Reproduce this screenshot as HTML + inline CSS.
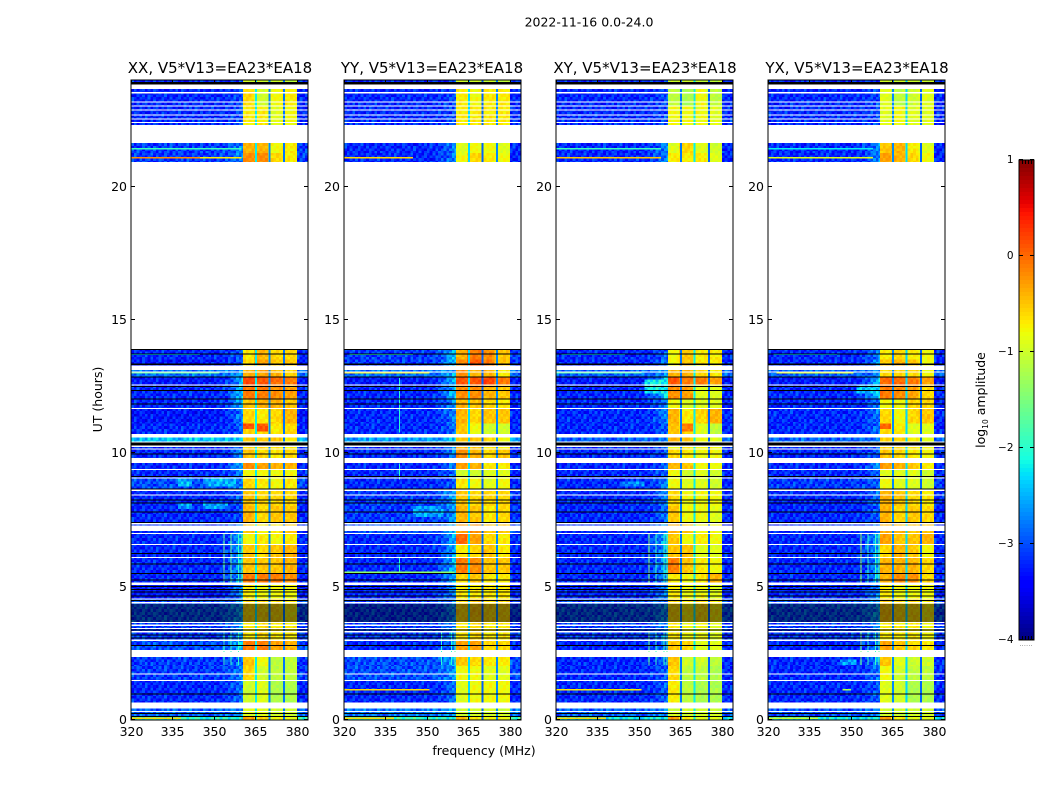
<!DOCTYPE html>
<html lang="en">
<head>
<meta charset="utf-8">
<title>2022-11-16 0.0-24.0</title>
<style>
html,body{margin:0;padding:0;background:#fff}
svg{display:block}
text{font-family:"DejaVu Sans","Liberation Sans",sans-serif;fill:#000}
</style>
</head>
<body>
<svg id="figure" xmlns="http://www.w3.org/2000/svg" width="1050" height="800" viewBox="0 0 1050 800">
  <rect x="0" y="0" width="1050" height="800" fill="#fff"/>
  <text x="589" y="26.5" font-size="12.5" text-anchor="middle">2022-11-16 0.0-24.0</text>
  <g id="panel-xx"></g>
  <g id="panel-yy"></g>
  <g id="panel-xy"></g>
  <g id="panel-yx"></g>
  <text x="220" y="73" font-size="15" text-anchor="middle">XX, V5*V13=EA23*EA18</text>
  <text x="432" y="73" font-size="15" text-anchor="middle">YY, V5*V13=EA23*EA18</text>
  <text x="645" y="73" font-size="15" text-anchor="middle">XY, V5*V13=EA23*EA18</text>
  <text x="857" y="73" font-size="15" text-anchor="middle">YX, V5*V13=EA23*EA18</text>
  <text x="484" y="755" font-size="12.5" text-anchor="middle">frequency (MHz)</text>
  <text transform="translate(102 399.5) rotate(-90)" font-size="12.5" text-anchor="middle">UT (hours)</text>
  <g id="colorbar"></g>
  <text transform="translate(985 400) rotate(-90)" font-size="12.5" text-anchor="middle">log<tspan font-size="7.5" dy="3">10</tspan><tspan dy="-3"> amplitude</tspan></text>
  <text x="1026" y="646" font-size="7" style="fill:#888" text-anchor="middle">......</text>
</svg>
<script>
// ---- Axis ticks ----
const xTickValues = [320, 335, 350, 365, 380];
const yTickValues = [0, 5, 10, 15, 20];
const colorbarTickValues = [-4, -3, -2, -1, 0, 1];

// ---- Observation bands (UT hours, top of plot to bottom) ----
const bandStartUT = [23.9,23.0,22.29,21.25,20.9,13.5,13.27,12.85,12.53,12.0,11.66,11.1,10.7,10.43,10.13,9.8,9.4,9.03,8.62,8.0,7.4,7.0,6.58,6.1,5.5,5.13,4.54,3.66,3.0,2.6,2.0,1.49,0.63,0.13,0];
const bandEndUT   = [24,23.64,23.0,21.61,21.25,13.9,13.5,13.1,12.85,12.53,12.0,11.66,11.1,10.57,10.22,10.13,9.62,9.4,9.03,8.62,8.0,7.32,7.0,6.58,6.1,5.5,5.13,4.54,3.66,3.0,2.35,2.0,1.49,0.42,0.09];

// ---- log10 amplitude per band: [below band, band edge, seg 360-365, seg 365-370, seg 370-375, seg 375-380] ----
const xxLevels = [[-3.2,-3,-1,-1,-1,-1.1],[-3.2,-3,-.6,-1,-.8,-.7],[-3.2,-3,-.7,-.7,-.9,-.8],[-3.1,-2.7,-.4,-.4,-.8,-.7],[-3.1,-2.7,-.2,-.2,-.6,-.7],[-3.2,-2.9,-.7,-.4,-.6,-.6],[-3.3,-2.9,-.6,-.3,-.5,-.5],[-2.8,-2.6,-.4,-.3,-.4,-.6],[-3.3,-2.5,.2,.1,0,-.1],[-3.2,-2.4,-.1,-.1,-.2,-.3],[-3.2,-2.5,-.5,-.4,-.4,-.5],[-3.3,-2.7,-.6,-.7,-.6,-.4],[-3.2,-2.9,-.6,-.6,-.7,-.6],[-2.4,-2.4,-.5,-.5,-.5,-.7],[-3.2,-2.9,-.6,-.6,-.7,-.7],[-3.2,-2.7,-.5,-.6,-.7,-.6],[-3.2,-2.5,-.2,-.3,-.4,-.4],[-3.2,-2.7,-.8,-.8,-.8,-.8],[-3,-2.7,-.6,-.7,-.8,-.7],[-3.2,-2.9,-.5,-.6,-.6,-.6],[-3.2,-3,-.4,-.6,-.5,-.5],[-3.2,-2.7,-.5,-.7,-.7,-.5],[-3.2,-2.5,-.8,-.7,-.8,-.7],[-3.2,-2.5,-.5,-.6,-.5,-.4],[-3.2,-2.5,-.5,-.5,-.5,-.4],[-3.2,-2.5,-.1,-.1,-.1,-.2],[-3.3,-2.6,-.7,-.8,-.8,-.8],[-3,-2.6,-.6,-.6,-.6,-.7],[-3.1,-2.6,-.7,-.6,-.7,-.7],[-3,-2.4,-.1,-.1,-.3,-.4],[-3.1,-2.8,-.5,-.8,-1.1,-1.1],[-3.1,-2.7,-.6,-1,-1.1,-1.1],[-3.2,-2.8,-1,-.9,-1.2,-1.2],[-2.9,-2.7,-.9,-.9,-1,-1],[-2,-2.2,-.3,-.6,-.8,-.8]];
const yyLevels = [[-3.2,-3,-1,-1,-1,-1.1],[-3.2,-3,-.7,-.8,-.7,-.7],[-3.2,-3,-.7,-.7,-.7,-.7],[-3.2,-2.7,-.9,-.8,-.8,-.9],[-3.2,-2.7,-.8,-.6,-.7,-.8],[-3.1,-2.4,-.4,-.1,-.2,-.5],[-3.1,-2.4,-.2,.1,-.1,-.5],[-2.8,-2.5,-.2,-.4,-.4,-.7],[-3.3,-2.3,.1,.1,.2,-.1],[-3.2,-2.4,-.2,-.2,-.4,-.5],[-3.2,-2.6,-.4,-.5,-.6,-.7],[-3.2,-2.7,-.4,-.6,-.5,-.5],[-3.2,-2.8,-.5,-.8,-1,-1],[-2.6,-2.4,-.5,-.5,-.6,-.8],[-3.2,-2.7,-.4,-.5,-.7,-.7],[-3.2,-2.7,-.2,-.4,-.6,-.5],[-3.2,-2.8,-.3,-.4,-.7,-.7],[-3.2,-2.8,-1,-1,-.9,-.9],[-3.2,-2.9,-.7,-.8,-.9,-.8],[-3.1,-2.5,-.5,-.6,-.6,-.6],[-3.1,-2.6,-.4,-.5,-.7,-.6],[-3,-2.5,-.3,-.2,-.5,-.5],[-3.2,-2.5,0,-.3,-.6,-.7],[-3.2,-2.5,-.7,-.6,-.5,-.7],[-3.2,-2.4,-.1,-.2,-.5,-.5],[-3.2,-2.5,-.6,-.5,-.7,-.7],[-3.2,-2.7,-.7,-.7,-.7,-.7],[-3.1,-2.7,-.6,-.5,-.6,-.6],[-3.1,-2.7,-.7,-.6,-.7,-.7],[-3.2,-2.7,-.3,-.3,-.6,-.6],[-3,-2.5,-.5,-.6,-.7,-.7],[-3,-2.6,-.8,-.8,-.9,-.9],[-3.2,-2.8,-.9,-.8,-.8,-.8],[-2.8,-2.6,-1,-1,-1,-1],[-1.9,-2.2,-.4,-.7,-.8,-.8]];
const xyLevels = [[-3.2,-3,-1,-1,-1,-1.1],[-3.2,-3,-1.1,-1.2,-.8,-1.1],[-3.2,-3,-.8,-.8,-.8,-.9],[-3.2,-2.7,-.9,-.6,-.9,-1],[-3.2,-2.7,-.7,-.7,-.7,-.9],[-3.2,-2.9,-.8,-.5,-.7,-.7],[-3.2,-2.8,-.8,-.5,-.7,-.7],[-2.9,-2.6,-.4,-.4,-.6,-.7],[-3.3,-2.2,.1,-.1,-.1,-.3],[-3.2,-2.2,-.2,-.3,-.9,-.9],[-3.2,-2.7,-.8,-.9,-.9,-.9],[-3.2,-2.7,-.4,-.7,-.6,-.4],[-3.2,-2.9,-.5,-.6,-.9,-1.1],[-2.9,-2.7,-.4,-.5,-.8,-.9],[-3.2,-2.9,-.8,-.7,-.8,-.8],[-3.2,-2.9,-.6,-.7,-.8,-.8],[-3.2,-2.9,-.4,-.5,-.8,-.8],[-3.2,-2.9,-.8,-1,-.9,-1],[-3.2,-2.7,-.8,-.9,-.9,-1],[-3.2,-2.7,-.6,-.8,-.8,-.8],[-3.2,-2.8,-.5,-.8,-.8,-.9],[-3.2,-2.6,-.4,-.5,-.8,-.8],[-3.2,-2.4,-.5,-.8,-.7,-.8],[-3.2,-2.5,-.5,-.5,-.9,-.9],[-3.2,-2.5,-.1,-.5,-.7,-.8],[-3.2,-2.7,-.7,-.8,-.7,-.4],[-3.2,-2.7,-.7,-.8,-.8,-.9],[-3,-2.7,-.6,-.7,-.6,-.7],[-3.1,-2.7,-.7,-.8,-.8,-.9],[-3.2,-2.8,-.5,-.6,-.9,-.9],[-3.2,-2.9,-.5,-1,-1,-1.1],[-3.2,-2.9,-.6,-1.1,-1.1,-1.2],[-3.2,-2.9,-.7,-1.1,-1.2,-1.2],[-2.9,-2.7,-1,-1,-1,-1],[-2.2,-2.2,-.3,-.7,-.9,-.9]];
const yxLevels = [[-3.2,-3,-1,-1,-1,-1],[-3.2,-3,-.9,-1.1,-1,-.9],[-3.2,-3,-.9,-.8,-.9,-.9],[-3.2,-2.7,-.5,-.4,-.7,-.9],[-3.2,-2.7,-.3,-.4,-.6,-.8],[-3.2,-2.7,-.7,-.6,-.7,-.8],[-3.2,-2.6,-.5,-.4,-.5,-.8],[-2.9,-2.7,-.6,-.6,-.6,-.8],[-3.3,-2.4,0,0,-.1,-.3],[-3.2,-2.3,-.1,-.2,-.3,-.6],[-3.2,-2.8,-.8,-.8,-.6,-.6],[-3.2,-2.8,-.6,-.8,-.6,-.5],[-3.2,-2.8,-.6,-.7,-.9,-.9],[-2.9,-2.7,-.6,-.6,-.7,-.9],[-3.2,-2.9,-.6,-.6,-.7,-.8],[-3.2,-2.9,-.5,-.6,-.7,-.8],[-3.2,-2.6,-.3,-.4,-.5,-.7],[-3.2,-2.9,-.9,-.9,-.9,-1],[-3.1,-2.9,-.8,-.9,-.9,-1],[-3.2,-2.8,-.4,-.5,-.6,-.7],[-3.2,-2.9,-.4,-.6,-.5,-.6],[-3.2,-2.8,-.4,-.4,-.5,-.5],[-3.2,-2.5,-.3,-.5,-.5,-.4],[-3.2,-2.5,-.6,-.4,-.5,-.8],[-3.2,-2.6,-.4,-.4,-.4,-.6],[-3.2,-2.6,-.4,-.2,-.2,-.6],[-3.2,-2.7,-.7,-.8,-.8,-.8],[-3,-2.6,-.5,-.6,-.6,-.7],[-3.1,-2.7,-.7,-.7,-.7,-.8],[-3.2,-2.8,-.3,-.5,-.6,-.7],[-3.2,-2.7,-.5,-.9,-1,-1],[-3.2,-2.8,-.8,-1,-1.1,-1.1],[-3.2,-2.9,-.9,-1,-1.2,-1.2],[-3,-2.7,-1,-1,-1,-1],[-2.2,-2.2,-.3,-.7,-.9,-.9]];

// ---- Narrow-band dips at the 365 / 370 / 375 MHz sub-band edges (log10 amplitude) ----
const xxNotchLevels = [-2.2,-2.7,-2.8];
const yyNotchLevels = [-2.3,-2.9,-2.7];
const xyNotchLevels = [-2.8,-2.2,-2.9];
const yxNotchLevels = [-2.7,-2.3,-2.9];
const notchCentersMHz = [365.1, 370.1, 375.2];

// ---- Small channel/time scatter about the band level, read as a typical ±0.3 dex (log10) ----
const scatterDex = [.22,-.18,.05,-.3,.12,.3,-.1,-.25,.18,-.05,.26,-.22,.08,-.32,.15,-.12,.34,-.2,.02,-.28,.2,-.08,.28,-.15,.1,-.35,.16,-.02,.24,-.26,.06];

// ---- Rows with no data (white) [from UT, to UT] ----
const whiteGapsUT = [[23.64,23.81],[23.47,23.52],[23.13,23.17],[22.98,23.02],[22.84,22.88],[22.65,22.69],[22.5,22.54],[22.37,22.41],[21.61,22.29],[13.9,20.9],[13.1,13.27],[13.02,13.05],[12.53,12.57],[11.64,11.68],[10.57,10.7],[10.38,10.43],[10.22,10.27],[10.13,10.16],[9.62,9.8],[9.36,9.4],[9.03,9.07],[8.56,8.62],[8.39,8.44],[7.32,7.36],[7.07,7.27],[6.96,7],[6.54,6.58],[6.06,6.1],[5.04,5.13],[4.5,4.54],[4.35,4.4],[3.63,3.66],[3.51,3.57],[3.39,3.44],[3.27,3.32],[2.95,3],[2.57,2.6],[2.35,2.54],[1.71,1.73],[1.44,1.49],[.42,.63],[.28,.32]];

// ---- Flagged rows (black) [from UT, to UT] ----
const blackRowsUT = [[23.81,23.9],[20.83,20.87],[13.86,13.9],[13.69,13.73],[13.29,13.35],[12.83,12.87],[12.49,12.51],[12.31,12.35],[11.99,12.03],[11.8,11.84],[10.28,10.38],[9.94,9.97],[9.1,9.13],[8.62,8.66],[8.21,8.24],[8.11,8.14],[7.76,7.79],[7.36,7.4],[6.21,6.24],[5.82,5.85],[5.47,5.5],[5.22,5.25],[4.96,5],[4.85,4.89],[4.76,4.8],[4.61,4.65],[4.44,4.48],[4.27,4.31],[4.19,4.23],[4.12,4.16],[4.05,4.09],[3.97,4.01],[3.9,3.94],[3.82,3.86],[3.75,3.79],[3.67,3.71],[3.33,3.38],[3.15,3.18],[3.04,3.07],[2.77,2.79],[.95,.98],[.23,.25],[.09,.13]];

// ---- Bright interference rows: [UT, from MHz, to MHz, log10 amplitude] ----
const xxHotRows = [[21.4,320,360,-1.9],[21.07,320,345,-.2],[21.07,345,360,-.7],[13.0,320,352,-1.6],[13.7,320,345,-2.3],[.05,320,338,-.6]];
const yyHotRows = [[21.07,320,345,-.6],[13.0,320,351,-.7],[13.7,322,345,-2],[5.52,320,360,-1.4],[1.12,320,351,-.6],[.05,320,338,-.6]];
const xyHotRows = [[21.4,320,358,-1.9],[21.07,320,358,-.5],[13.0,320,351,-1.7],[13.7,322,345,-2.3],[1.12,320,351,-.7],[.05,320,338,-.6]];
const yxHotRows = [[21.07,320,358,-.9],[21.4,320,358,-2.2],[13.0,323,351,-.8],[13.7,322,345,-2.3],[1.12,347,350,-1.2],[.05,320,338,-1]];

// ---- Narrow vertical RFI lines: [MHz, from UT, to UT, log10 amplitude] ----
const xxLines = [[353.4,5.13,6.96,-1.6],[356,5.13,6.96,-1.6],[358.6,5.13,6.96,-1.9],[360,5.13,6.96,-1.6],[353.4,2.05,3.3,-1.9],[356,2.05,3.3,-1.9],[358.6,2.05,3.3,-1.9]];
const yyLines = [[339.9,10.77,12.8,-2],[339.9,9.0,9.6,-2],[339.9,5.5,6.1,-2],[355,2.05,3.3,-2],[358.6,2.05,3.3,-2],[360,2.05,3.3,-1.7]];
const xyLines = [[353.4,5.13,6.96,-1.4],[356,5.13,6.96,-1.9],[358.8,5.13,6.96,-1.9],[360,5.13,6.96,-1.6],[353.4,2.05,3.3,-1.6],[356,2.05,3.3,-1.9],[358.8,2.05,3.3,-1.9],[360,2.05,3.3,-1.7]];
const yxLines = [[353.4,5.13,6.96,-1.3],[356,5.13,6.96,-1.9],[358.6,5.13,6.96,-1.9],[360,5.13,6.96,-1.6],[353.4,2.05,3.3,-1.5],[356,2.05,3.3,-1.9],[358.6,2.05,3.3,-1.9],[360,2.05,3.3,-1.7]];

// ---- Diffuse patches (raise cells up to this level): [from MHz, to MHz, from UT, to UT, log10 amplitude] ----
const xxPatches = [[337,342,8.7,9.0,-2.5],[347,358,8.7,9.0,-2.5],[337,342,7.95,8.1,-2.6],[346,355,7.95,8.1,-2.6],[361,365,10.9,11.1,.15],[366,370,10.85,11.1,.1]];
const yyPatches = [[345,356,7.6,8.0,-2.6]];
const xyPatches = [[352,360,12.2,12.8,-2.2],[344,352,8.7,8.9,-2.7],[366,370,10.8,11.1,-.1]];
const yxPatches = [[352,360,12.2,12.6,-2.4],[346,352,2.05,2.3,-2.6],[361,365,10.9,11.1,0]];

const polarisations = ['xx','yy','xy','yx'];
const panelLevels = [xxLevels, yyLevels, xyLevels, yxLevels];
const panelNotches = [xxNotchLevels, yyNotchLevels, xyNotchLevels, yxNotchLevels];
const panelHotRows = [xxHotRows, yyHotRows, xyHotRows, yxHotRows];
const panelLines = [xxLines, yyLines, xyLines, yxLines];
const panelPatches = [xxPatches, yyPatches, xyPatches, yxPatches];

// ---- Layout constants ----
const SVGNS = 'http://www.w3.org/2000/svg';
const PLOT = {top: 80, bottom: 720, width: 177, lefts: [131, 344, 556, 768]};
const FREQ = {min: 320, max: 384, subStart: 360.5, subEnd: 380};
const UT = {min: 0, max: 24, rowStep: 0.1};
const CBAR = {x: 1019, width: 15, top: 160, bottom: 640, min: -4, max: 1, steps: 120};

const xScale = (left, mhz) => left + (mhz - FREQ.min) * PLOT.width / (FREQ.max - FREQ.min);
const yScale = ut => Math.max(PLOT.top, PLOT.bottom - 0.5 - (ut - UT.min) * 26.67);
const cbarScale = v => CBAR.bottom - (v - CBAR.min) * (CBAR.bottom - CBAR.top) / (CBAR.max - CBAR.min);

function piecewise(t, pts) {
  for (let i = 1; i < pts.length; i++) {
    if (t <= pts[i][0]) {
      const a = pts[i - 1], b = pts[i];
      return a[1] + (b[1] - a[1]) * (t - a[0]) / (b[0] - a[0]);
    }
  }
  return pts[pts.length - 1][1];
}
const jetR = [[0,0],[.35,0],[.66,1],[.89,1],[1,.5]];
const jetG = [[0,0],[.125,0],[.375,1],[.64,1],[.91,0],[1,0]];
const jetB = [[0,.5],[.11,1],[.34,1],[.65,0],[1,0]];
function colorOf(logAmp) {
  const t = Math.min(1, Math.max(0, (logAmp - CBAR.min) / (CBAR.max - CBAR.min)));
  return 'rgb(' + Math.round(255 * piecewise(t, jetR)) + ',' + Math.round(255 * piecewise(t, jetG)) + ',' + Math.round(255 * piecewise(t, jetB)) + ')';
}

function addRect(parent, x, y, w, h, fill) {
  const r = document.createElementNS(SVGNS, 'rect');
  r.setAttribute('x', x.toFixed(2));
  r.setAttribute('y', y.toFixed(2));
  r.setAttribute('width', w.toFixed(2));
  r.setAttribute('height', h.toFixed(2));
  r.setAttribute('fill', fill);
  parent.appendChild(r);
  return r;
}
function addLine(parent, x1, y1, x2, y2, stroke, width) {
  const l = document.createElementNS(SVGNS, 'line');
  l.setAttribute('x1', x1);
  l.setAttribute('y1', y1);
  l.setAttribute('x2', x2);
  l.setAttribute('y2', y2);
  l.setAttribute('stroke', stroke);
  l.setAttribute('stroke-width', width);
  parent.appendChild(l);
  return l;
}
function addText(parent, x, y, str, size, anchor) {
  const t = document.createElementNS(SVGNS, 'text');
  t.setAttribute('x', x);
  t.setAttribute('y', y);
  t.setAttribute('font-size', size);
  t.setAttribute('text-anchor', anchor);
  t.textContent = str;
  parent.appendChild(t);
  return t;
}
function addGroup(parent) {
  const g = document.createElementNS(SVGNS, 'g');
  g.setAttribute('shape-rendering', 'crispEdges');
  parent.appendChild(g);
  return g;
}

// Channel edges in MHz: 1 MHz bins with breaks at the edges of the bright sub-band.
function channelEdges() {
  const edges = [];
  for (let f = FREQ.min; f <= 360; f += 1) edges.push(f);
  for (let f = FREQ.subStart; f < FREQ.subEnd; f += 1) edges.push(f);
  for (let f = FREQ.subEnd; f <= FREQ.max; f += 1) edges.push(f);
  return edges;
}

function levelAt(level, mhz) {
  const low = level[0], edge = level[1];
  if (mhz >= FREQ.subEnd) return low;
  if (mhz >= 375) return level[5];
  if (mhz >= 370) return level[4];
  if (mhz >= 365) return level[3];
  if (mhz >= FREQ.subStart) return level[2];
  if (mhz >= 350) {
    const w = (mhz - 350) / 10;
    return low + (edge - low) * w * w;
  }
  return low;
}

function patchLevelAt(patches, mhz, ut) {
  let best = -Infinity;
  patches.forEach(d => {
    if (mhz >= d[0] && mhz < d[1] && ut >= d[2] && ut < d[3]) best = Math.max(best, d[4]);
  });
  return best;
}

function drawPanel(p) {
  const left = PLOT.lefts[p];
  const root = document.getElementById('panel-' + polarisations[p]);
  const edges = channelEdges();

  const cells = addGroup(root);
  
  

  panelLevels[p].forEach((level, b) => {
    const t0 = bandStartUT[b], t1 = bandEndUT[b];
    let row = Math.round(t1 * 10);
    for (let top = t1; top > t0 + 1e-6; top -= UT.rowStep) {
      const bot = Math.max(t0, top - UT.rowStep);
      row += 1;
      for (let c = 0; c < edges.length - 1; c++) {
        const mid = (edges[c] + edges[c + 1]) / 2;
        const inSub = mid >= FREQ.subStart && mid < FREQ.subEnd;
        const scatter = scatterDex[(c * 7 + row * 11 + p * 5) % scatterDex.length] * (inSub ? 0.35 : 1);
        const base = Math.max(levelAt(level, mid), patchLevelAt(panelPatches[p], mid, (top + bot) / 2));
        const x0 = xScale(left, edges[c]), x1 = xScale(left, edges[c + 1]);
        const rect = addRect(cells, x0, yScale(top), x1 - x0, yScale(bot) - yScale(top), colorOf(base + scatter));
        
        
      }
    }
    notchCentersMHz.forEach((mhz, n) => {
      const rect = addRect(cells, xScale(left, mhz - 0.3), yScale(t1), 2, yScale(t0) - yScale(t1), colorOf(panelNotches[p][n]));
      
      
    });
  });

  panelLines[p].forEach(d => {
    const rect = addRect(cells, xScale(left, d[0]), yScale(d[2]), 1, yScale(d[1]) - yScale(d[2]), colorOf(d[3]));
    
    
  });
  panelHotRows[p].forEach(d => {
    const rect = addRect(cells, xScale(left, d[1]), yScale(d[0]) - 0.75, xScale(left, d[2]) - xScale(left, d[1]), 1.5, colorOf(d[3]));
    
    
  });
  blackRowsUT.forEach(d => {
    const rect = addRect(cells, left, yScale(d[1]), PLOT.width, (d[1] - d[0] < 0.06) ? 1 : yScale(d[0]) - yScale(d[1]), '#000');
    
    
  });
  whiteGapsUT.forEach(d => {
    const rect = addRect(cells, left, yScale(d[1]), PLOT.width, Math.max(1, yScale(d[0]) - yScale(d[1])), '#fff');
    
    
  });

  const frame = document.createElementNS(SVGNS, 'rect');
  frame.setAttribute('x', left);
  frame.setAttribute('y', PLOT.top);
  frame.setAttribute('width', PLOT.width);
  frame.setAttribute('height', PLOT.bottom - PLOT.top);
  frame.setAttribute('fill', 'none');
  frame.setAttribute('stroke', '#000');
  frame.setAttribute('stroke-width', '1');
  
  
  root.appendChild(frame);

  xTickValues.forEach(v => {
    const x = Math.round(xScale(left, v)) + 0.5;
    const bottomTick = addLine(root, x, PLOT.bottom, x, PLOT.bottom - 4, '#000', 1);
    
    
    const topTick = addLine(root, x, PLOT.top, x, PLOT.top + 4, '#000', 1);
    
    
    const label = addText(root, x, 736, String(v), 12.5, 'middle');
    
    
  });
  yTickValues.forEach(v => {
    const y = Math.round(yScale(v) + 0.5) - 0.5;
    const leftTick = addLine(root, left, y, left + 4, y, '#000', 1);
    
    
    const rightTick = addLine(root, left + PLOT.width, y, left + PLOT.width - 4, y, '#000', 1);
    
    
    const label = addText(root, left - 4, y + 4.5, String(v), 12.5, 'end');
    
    
  });
}

function drawColorbar() {
  const root = document.getElementById('colorbar');
  const ramp = addGroup(root);
  
  
  const span = CBAR.max - CBAR.min;
  for (let i = 0; i < CBAR.steps; i++) {
    const lo = CBAR.min + span * i / CBAR.steps;
    const hi = CBAR.min + span * (i + 1) / CBAR.steps;
    const rect = addRect(ramp, CBAR.x, cbarScale(hi), CBAR.width, cbarScale(lo) - cbarScale(hi), colorOf((lo + hi) / 2));
    
    
  }
  const frame = document.createElementNS(SVGNS, 'rect');
  frame.setAttribute('x', CBAR.x);
  frame.setAttribute('y', CBAR.top);
  frame.setAttribute('width', CBAR.width);
  frame.setAttribute('height', CBAR.bottom - CBAR.top);
  frame.setAttribute('fill', 'none');
  frame.setAttribute('stroke', '#000');
  frame.setAttribute('stroke-width', '1');
  
  
  root.appendChild(frame);
  for (let k = 1; k <= 4; k++) {
    const tx = CBAR.x + k * 3 + 0.5;
    const toothTop = addLine(root, tx, CBAR.top, tx, CBAR.top + 4, '#000', 1);
    
    
    const toothBottom = addLine(root, tx, CBAR.bottom, tx, CBAR.bottom - 4, '#000', 1);
    
    
  }
  colorbarTickValues.forEach(v => {
    const y = Math.round(cbarScale(v)) - 0.5;
    const tickL = addLine(root, CBAR.x, y, CBAR.x + 4, y, '#000', 1);
    
    
    const tickR = addLine(root, CBAR.x + CBAR.width, y, CBAR.x + CBAR.width - 4, y, '#000', 1);
    
    
    const label = addText(root, 1013.5, y + 3.5, String(v).replace('-', '\u2212'), 10.5, 'end');
    
    
  });
}

polarisations.forEach((_, p) => drawPanel(p));
drawColorbar();
</script>
</body>
</html>
